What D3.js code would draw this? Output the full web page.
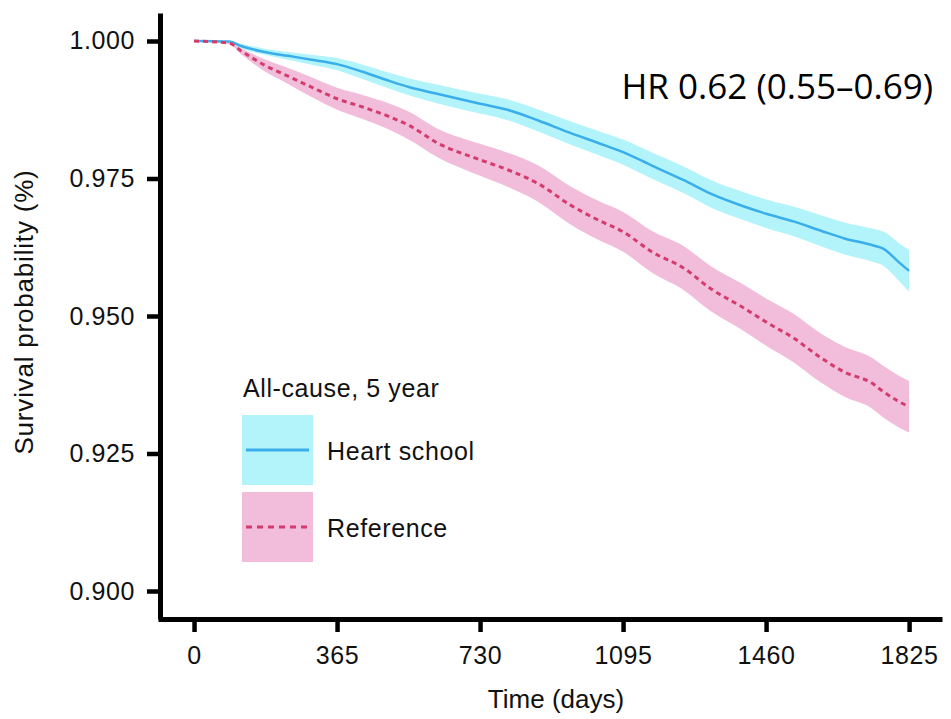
<!DOCTYPE html>
<html>
<head>
<meta charset="utf-8">
<script src="https://cdn.jsdelivr.net/npm/d3@7"></script>
<style>
  html, body { margin: 0; padding: 0; background: #fff; }
  svg { display: block; }
</style>
</head>
<body>
<svg id="chart" width="951" height="719"></svg>
<script>
// ---- data ----
const days = [0, 90, 120, 180, 240, 300, 365, 430, 500, 550, 620, 730, 800, 880, 960, 1030, 1095, 1170, 1250, 1320, 1400, 1460, 1530, 1600, 1660, 1730, 1760, 1800, 1825];

const heartSurv  = [1.0000, 0.9999, 0.9991, 0.9980, 0.9973, 0.9966, 0.9958, 0.9944, 0.9927, 0.9916, 0.9904, 0.9886, 0.9875, 0.9855, 0.9833, 0.9815, 0.9798, 0.9773, 0.9747, 0.9722, 0.9700, 0.9686, 0.9672, 0.9655, 0.9641, 0.9629, 0.9622, 0.9597, 0.9582];
const heartLower = [1.0000, 0.9998, 0.9987, 0.9975, 0.9966, 0.9957, 0.9947, 0.9931, 0.9913, 0.9901, 0.9887, 0.9868, 0.9856, 0.9835, 0.9812, 0.9793, 0.9775, 0.9749, 0.9723, 0.9697, 0.9675, 0.9660, 0.9645, 0.9627, 0.9612, 0.9599, 0.9591, 0.9563, 0.9544];
const heartUpper = [1.0000, 1.0000, 0.9995, 0.9986, 0.9980, 0.9975, 0.9969, 0.9957, 0.9942, 0.9932, 0.9921, 0.9904, 0.9894, 0.9875, 0.9854, 0.9837, 0.9821, 0.9797, 0.9772, 0.9747, 0.9726, 0.9712, 0.9699, 0.9683, 0.9670, 0.9659, 0.9653, 0.9632, 0.9620];

const refSurv  = [1.0000, 0.9996, 0.9982, 0.9956, 0.9936, 0.9916, 0.9895, 0.9880, 0.9862, 0.9846, 0.9815, 0.9784, 0.9766, 0.9740, 0.9702, 0.9675, 0.9653, 0.9616, 0.9587, 0.9549, 0.9516, 0.9489, 0.9460, 0.9424, 0.9398, 0.9378, 0.9362, 0.9344, 0.9335];
const refLower = [1.0000, 0.9994, 0.9976, 0.9945, 0.9922, 0.9898, 0.9875, 0.9858, 0.9838, 0.9820, 0.9789, 0.9755, 0.9735, 0.9707, 0.9667, 0.9639, 0.9617, 0.9578, 0.9547, 0.9508, 0.9474, 0.9446, 0.9416, 0.9379, 0.9353, 0.9332, 0.9315, 0.9297, 0.9288];
const refUpper = [1.0000, 0.9998, 0.9987, 0.9967, 0.9951, 0.9934, 0.9915, 0.9902, 0.9886, 0.9871, 0.9841, 0.9813, 0.9797, 0.9773, 0.9736, 0.9710, 0.9689, 0.9654, 0.9627, 0.9590, 0.9558, 0.9532, 0.9504, 0.9468, 0.9444, 0.9424, 0.9409, 0.9391, 0.9382];

const xTicks = [0, 365, 730, 1095, 1460, 1825];
const yTicks = [0.900, 0.925, 0.950, 0.975, 1.000];

const seriesNames = ["Heart school", "Reference"];
const legendTitle = "All-cause, 5 year";
const hrText = "HR 0.62 (0.55\u20130.69)";
const xTitle = "Time (days)";
const yTitle = "Survival probability (%)";

// ---- styles ----
const colors = {
  heartBand: "#b3f4fa", heartLine: "#3aaeea",
  refBand: "#f1bddb", refLine: "#d43c6d"
};
const tickFont = "'Liberation Sans', Arial, Helvetica, sans-serif";

const svg = d3.select("#chart");

const x = d3.scaleLinear().domain([-92, 1909]).range([158, 942]);
const y = d3.scaleLinear().domain([0.89491, 1.00509]).range([619, 13]);

const heart = days.map((d, i) => ({d, s: heartSurv[i], lo: heartLower[i], hi: heartUpper[i]}));
const ref = days.map((d, i) => ({d, s: refSurv[i], lo: refLower[i], hi: refUpper[i]}));

const area = d3.area().x(p => x(p.d)).y0(p => y(p.lo)).y1(p => y(p.hi)).curve(d3.curveMonotoneX);
const line = d3.line().x(p => x(p.d)).y(p => y(p.s)).curve(d3.curveMonotoneX);

// bands
svg.append("path").datum(ref).attr("d", area).attr("fill", colors.refBand);
svg.append("path").datum(heart).attr("d", area).attr("fill", colors.heartBand);

// lines
svg.append("path").datum(heart).attr("d", line)
  .attr("fill", "none").attr("stroke", colors.heartLine).attr("stroke-width", 2.5);
svg.append("path").datum(ref).attr("d", line)
  .attr("fill", "none").attr("stroke", colors.refLine).attr("stroke-width", 3)
  .attr("stroke-dasharray", "5,4");

// axes
const yAxis = svg.append("g").attr("transform", "translate(160,0)")
  .call(d3.axisLeft(y).tickValues(yTicks).tickFormat(d3.format(".3f")).tickSize(13).tickSizeOuter(0).tickPadding(12));
const xAxis = svg.append("g").attr("transform", "translate(0,619)")
  .call(d3.axisBottom(x).tickValues(xTicks).tickFormat(d3.format("d")).tickSize(13).tickSizeOuter(0).tickPadding(14));

[yAxis, xAxis].forEach(g => {
  g.select(".domain").attr("stroke", "#000").attr("stroke-width", 5);
  g.selectAll(".tick line").attr("stroke", "#000").attr("stroke-width", 4.5);
  g.selectAll(".tick text").attr("fill", "#111").style("font-family", tickFont)
    .style("font-size", "25px").style("letter-spacing", "0.6px");
});

// axis titles
svg.append("text").attr("x", 556).attr("y", 708).attr("text-anchor", "middle")
  .style("font-family", tickFont).style("font-size", "26px").attr("fill", "#111")
  .text(xTitle);
svg.append("text").attr("transform", "translate(33,312) rotate(-90)").attr("text-anchor", "middle")
  .style("font-family", tickFont).style("font-size", "26px").style("letter-spacing", "0.8px").attr("fill", "#111")
  .text(yTitle);

// HR annotation
svg.append("text").attr("x", 933).attr("y", 99).attr("text-anchor", "end")
  .style("font-family", "'Open Sans', 'Noto Sans', sans-serif").style("font-size", "35px").attr("fill", "#000")
  .text(hrText);

// legend
const lg = svg.append("g");
lg.append("text").attr("x", 243).attr("y", 397)
  .style("font-family", tickFont).style("font-size", "25px").style("letter-spacing", "0.6px").attr("fill", "#111")
  .text(legendTitle);
const legItems = [
  {name: seriesNames[0], band: colors.heartBand, line: colors.heartLine, dash: null, y0: 415},
  {name: seriesNames[1], band: colors.refBand, line: colors.refLine, dash: "6,5", y0: 492}
];
legItems.forEach(it => {
  lg.append("rect").attr("x", 242).attr("y", it.y0).attr("width", 71).attr("height", 70).attr("fill", it.band);
  const l = lg.append("line").attr("x1", 246).attr("x2", 309).attr("y1", it.y0 + 35).attr("y2", it.y0 + 35)
    .attr("stroke", it.line).attr("stroke-width", 3);
  if (it.dash) l.attr("stroke-dasharray", it.dash);
  lg.append("text").attr("x", 327).attr("y", it.y0 + 45)
    .style("font-family", tickFont).style("font-size", "25px").style("letter-spacing", "0.6px").attr("fill", "#111")
    .text(it.name);
});
</script>
</body>
</html>
